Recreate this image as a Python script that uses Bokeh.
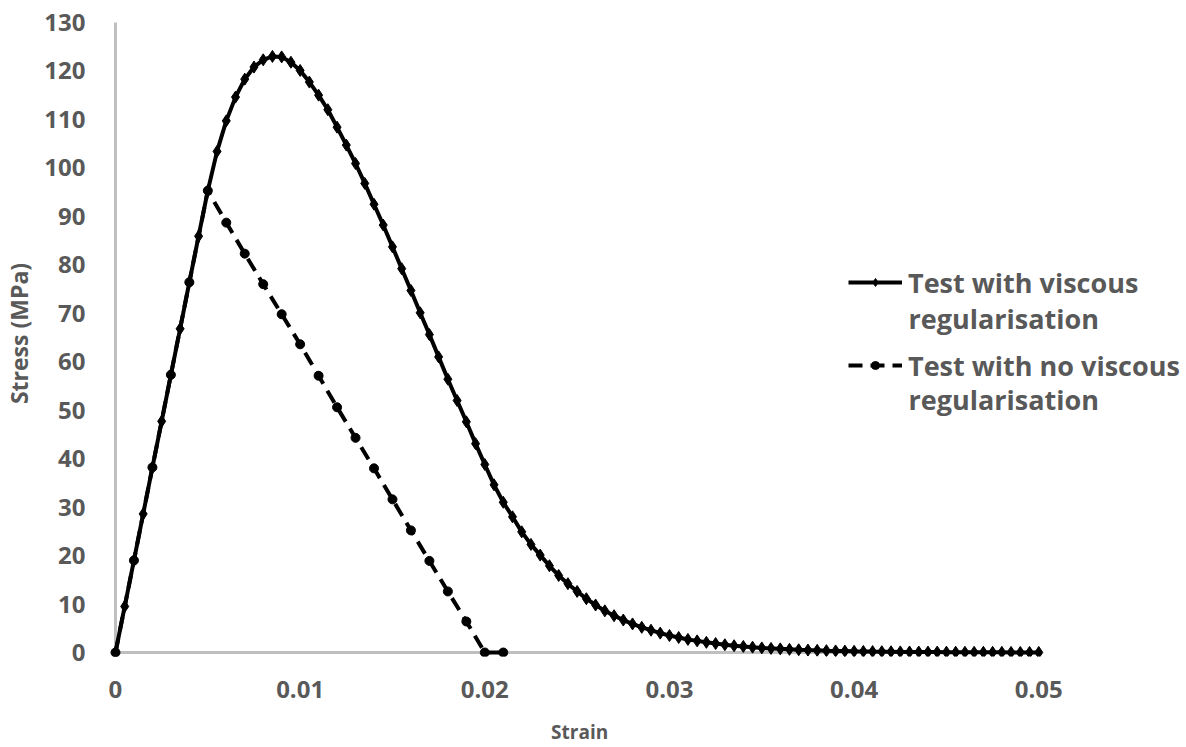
from bokeh.plotting import figure
from bokeh.models import Range1d, FixedTicker, Grid, Legend, LegendItem, Label, LinearAxis
from bokeh.embed import file_html
from bokeh.resources import INLINE

# ---- data ----
strain_visc = [
    0.0, 0.0005, 0.001, 0.0015, 0.002, 0.0025, 0.003, 0.0035, 0.004, 0.0045,
    0.005, 0.0055, 0.006, 0.0065, 0.007, 0.0075, 0.008, 0.0085, 0.009, 0.0095,
    0.01, 0.0105, 0.011, 0.0115, 0.012, 0.0125, 0.013, 0.0135, 0.014, 0.0145,
    0.015, 0.0155, 0.016, 0.0165, 0.017, 0.0175, 0.018, 0.0185, 0.019, 0.0195,
    0.02, 0.0205, 0.021, 0.0215, 0.022, 0.0225, 0.023, 0.0235, 0.024, 0.0245,
    0.025, 0.0255, 0.026, 0.0265, 0.027, 0.0275, 0.028, 0.0285, 0.029, 0.0295,
    0.03, 0.0305, 0.031, 0.0315, 0.032, 0.0325, 0.033, 0.0335, 0.034, 0.0345,
    0.035, 0.0355, 0.036, 0.0365, 0.037, 0.0375, 0.038, 0.0385, 0.039, 0.0395,
    0.04, 0.0405, 0.041, 0.0415, 0.042, 0.0425, 0.043, 0.0435, 0.044, 0.0445,
    0.045, 0.0455, 0.046, 0.0465, 0.047, 0.0475, 0.048, 0.0485, 0.049, 0.0495,
    0.05,
]
stress_visc = [
    0.0, 9.5, 19.0, 28.6, 38.2, 47.7, 57.3, 66.8, 76.4, 85.9,
    95.3, 103.4, 109.7, 114.6, 118.3, 120.8, 122.3, 123.0, 122.9, 121.8,
    120.1, 117.7, 115.0, 112.0, 108.4, 104.7, 100.9, 96.8, 92.5, 88.2,
    83.7, 79.2, 74.7, 70.1, 65.6, 61.0, 56.4, 52.0, 47.6, 43.1,
    38.8, 34.6, 31.0, 28.0, 24.9, 22.3, 20.1, 17.9, 15.9, 14.2,
    12.6, 11.1, 9.8, 8.6, 7.6, 6.7, 5.9, 5.2, 4.6, 4.0,
    3.5, 3.1, 2.7, 2.4, 2.1, 1.85, 1.6, 1.4, 1.25, 1.1,
    0.95, 0.85, 0.75, 0.65, 0.57, 0.5, 0.44, 0.38, 0.33, 0.29,
    0.25, 0.22, 0.19, 0.17, 0.15, 0.13, 0.11, 0.1, 0.09, 0.08,
    0.07, 0.06, 0.05, 0.045, 0.04, 0.035, 0.03, 0.025, 0.02, 0.02,
    0.02,
]
strain_novisc = [
    0.0, 0.001, 0.002, 0.003, 0.004, 0.005, 0.006, 0.007, 0.008, 0.009, 0.01,
    0.011, 0.012, 0.013, 0.014, 0.015, 0.016, 0.017, 0.018, 0.019, 0.02, 0.021,
]
stress_novisc = [
    0.0, 19.0, 38.2, 57.3, 76.4, 95.3, 88.7, 82.3, 76.0, 69.8, 63.6,
    57.1, 50.6, 44.3, 38.0, 31.6, 25.2, 18.9, 12.6, 6.4, 0.0, 0.0,
]
x_ticks = [0, 0.01, 0.02, 0.03, 0.04, 0.05]
x_tick_labels = ["0", "0.01", "0.02", "0.03", "0.04", "0.05"]
y_ticks = [0, 10, 20, 30, 40, 50, 60, 70, 80, 90, 100, 110, 120, 130]
series_names = [["Test with viscous", "regularisation"],
                ["Test with no viscous", "regularisation"]]
x_title = "Strain"
y_title = "Stress (MPa)"

# ---- layout ----
W, H = 1186, 747
FONT = "Open Sans"
TXT = "#595959"
AXC = "#BFBFBF"

PX = 925.0 / 0.05          # pixels per strain unit
PY = 631.0 / 130.0         # pixels per MPa
xpad = 8 / PX
x_end = 0.05 + (1184 - 1038) / PX
FRAME_L, FRAME_B = 105, 657

p = figure(width=W, height=H, output_backend="svg", toolbar_location=None,
           x_range=Range1d(-xpad, x_end), y_range=Range1d(-4 / PY, 130 + 12 / PY),
           min_border_left=105, min_border_right=2, min_border_top=10, min_border_bottom=90)
p.outline_line_color = None
p.background_fill_color = "white"
p.border_fill_color = "white"
p.xgrid.visible = False
p.ygrid.visible = False

# axis lines drawn as bounded grid lines at 0
vgrid = Grid(dimension=0, ticker=FixedTicker(ticks=[0]), grid_line_color=AXC,
             grid_line_width=3, cross_bounds=(0, 130))
hgrid = Grid(dimension=1, ticker=FixedTicker(ticks=[0]), grid_line_color=AXC,
             grid_line_width=3, cross_bounds=(0, 0.05))
p.add_layout(vgrid)
p.add_layout(hgrid)

for ax in (p.xaxis[0], p.yaxis[0]):
    ax.axis_line_color = None
    ax.major_tick_line_color = None
    ax.minor_tick_line_color = None
    ax.major_label_text_font = FONT
    ax.major_label_text_font_style = "bold"
    ax.major_label_text_font_size = "24px"
    ax.major_label_text_color = TXT
    ax.axis_label_text_font = FONT
    ax.axis_label_text_font_style = "bold"
    ax.axis_label_text_font_size = "23px"
    ax.axis_label_text_color = TXT

p.xaxis.ticker = FixedTicker(ticks=x_ticks)
p.xaxis.major_label_overrides = {t: l for t, l in zip(x_ticks, x_tick_labels)}
p.yaxis.ticker = FixedTicker(ticks=y_ticks)
p.yaxis.major_label_overrides = {t: str(t) for t in y_ticks}
p.yaxis.axis_label = y_title
p.xaxis.major_label_standoff = 18
p.yaxis.major_label_standoff = 16
p.yaxis.axis_label_standoff = 6

# x-axis title: a label-only axis under the tick labels (centre at ~578 px)
title_pos = (578 - 113) / PX
xt_axis = LinearAxis(ticker=FixedTicker(ticks=[title_pos]),
                     major_label_overrides={title_pos: x_title},
                     axis_line_color=None, major_tick_line_color=None,
                     minor_tick_line_color=None, major_label_standoff=12,
                     major_label_text_font=FONT, major_label_text_font_style="bold",
                     major_label_text_font_size="19px", major_label_text_color=TXT)
p.add_layout(xt_axis, "below")

# ---- series ----
l1 = p.line(strain_visc, stress_visc, line_color="black", line_width=4)
m1 = p.scatter(strain_visc, stress_visc, marker="diamond", size=12,
               fill_color="black", line_color="black")
l2 = p.line(strain_novisc, stress_novisc, line_color="black", line_width=4,
            line_dash="14 8")
m2 = p.scatter(strain_novisc, stress_novisc, marker="circle", size=9,
               fill_color="black", line_color="black")

# ---- legend (first line as legend label, second line as text label) ----
leg_top = 246
item_h = 74
leg_spacing = 9
legend = Legend(items=[LegendItem(label=series_names[0][0], renderers=[l1, m1]),
                       LegendItem(label=series_names[1][0], renderers=[l2, m2])],
                location=(846 - FRAME_L, FRAME_B - (leg_top + 2 * item_h + leg_spacing)))
legend.border_line_color = None
legend.background_fill_alpha = 0
legend.padding = 0
legend.margin = 0
legend.spacing = leg_spacing
legend.glyph_width = 54
legend.glyph_height = 20
legend.label_height = item_h
legend.label_standoff = 6
legend.label_text_font = FONT
legend.label_text_font_style = "bold"
legend.label_text_font_size = "27px"
legend.label_text_color = TXT
p.add_layout(legend)

for i, base in enumerate([319, 400]):
    p.add_layout(Label(x=906 - FRAME_L, y=FRAME_B - base, x_units="screen", y_units="screen",
                       text=series_names[i][1], text_font=FONT, text_font_style="bold",
                       text_font_size="27px", text_color=TXT, text_baseline="alphabetic",
                       text_align="left"))

open("out.html", "w").write(file_html(p, INLINE))
